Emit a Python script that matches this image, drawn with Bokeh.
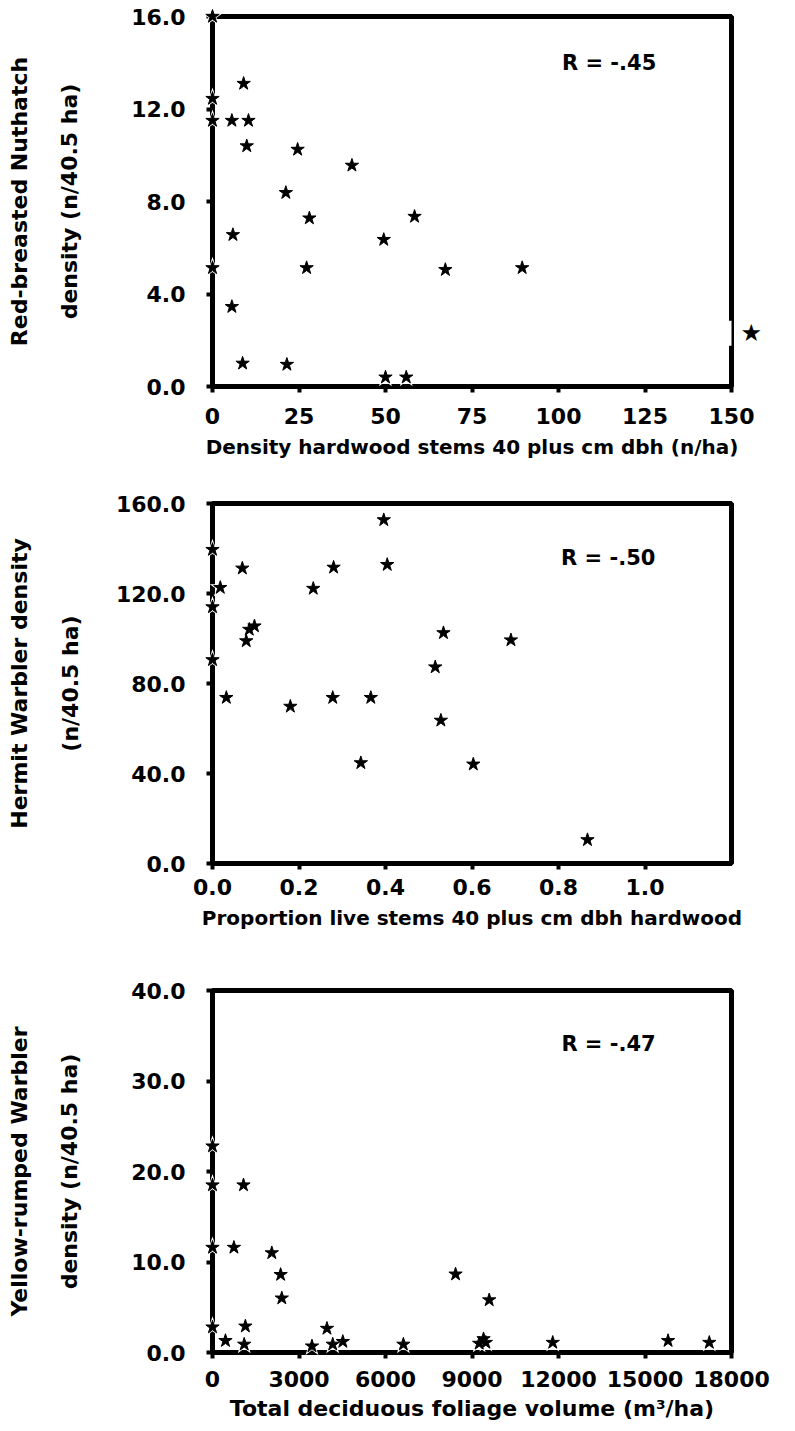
from bokeh.plotting import figure
from bokeh.models import Range1d, FixedTicker, LinearAxis, Label, NumeralTickFormatter
from bokeh.layouts import column
from bokeh.embed import file_html
from bokeh.resources import INLINE

FONT = "DejaVu Sans"
FRAME_W = 519

# ---------------- Panel 1: Red-breasted Nuthatch ----------------
nut_x = [0, 9.0, 0, 0, 5.6, 10.4, 9.9, 24.6, 40.3, 21.2, 28.0, 58.4, 5.9, 49.5,
         0, 27.2, 67.3, 89.5, 5.6, 155.4, 8.7, 21.5, 50.0, 56.0]
nut_y = [16.0, 13.1, 12.45, 11.5, 11.5, 11.5, 10.4, 10.25, 9.56, 8.38, 7.28, 7.35, 6.56, 6.35,
         5.13, 5.13, 5.05, 5.13, 3.45, 2.3, 1.0, 0.95, 0.4, 0.4]
nut_xticks = [0, 25, 50, 75, 100, 125, 150]
nut_xlabels = ["0", "25", "50", "75", "100", "125", "150"]
nut_yticks = [0, 4, 8, 12, 16]
nut_ylabels = ["0.0", "4.0", "8.0", "12.0", "16.0"]

# ---------------- Panel 2: Hermit Warbler ----------------
hw_x = [0.396, 0, 0.069, 0.280, 0.404, 0.018, 0, 0.233, 0.097, 0.085, 0.078, 0.534, 0.69,
        0, 0.515, 0.032, 0.180, 0.278, 0.366, 0.528, 0.343, 0.603, 0.867]
hw_y = [152.7, 139.5, 131.2, 131.6, 132.8, 122.6, 114.0, 122.2, 105.5, 104.0, 98.9, 102.5, 99.3,
        90.5, 87.3, 73.7, 69.8, 73.7, 73.7, 63.6, 44.7, 44.1, 10.5]
hw_xticks = [0.0, 0.2, 0.4, 0.6, 0.8, 1.0]
hw_xlabels = ["0.0", "0.2", "0.4", "0.6", "0.8", "1.0"]
hw_yticks = [0, 40, 80, 120, 160]
hw_ylabels = ["0.0", "40.0", "80.0", "120.0", "160.0"]

# ---------------- Panel 3: Yellow-rumped Warbler ----------------
yr_x = [0, 0, 1075, 0, 743, 2057, 2363, 2403, 8430, 9597,
        0, 1140, 3970, 450, 1100, 3450, 4170, 4520, 6620,
        9250, 9400, 9480, 11800, 15800, 17230]
yr_y = [22.8, 18.5, 18.5, 11.6, 11.6, 11.0, 8.6, 6.0, 8.65, 5.8,
        2.8, 2.9, 2.65, 1.3, 0.9, 0.7, 0.9, 1.2, 0.9,
        1.0, 1.5, 1.1, 1.1, 1.3, 1.1]
yr_xticks = [0, 3000, 6000, 9000, 12000, 15000, 18000]
yr_xlabels = ["0", "3000", "6000", "9000", "12000", "15000", "18000"]
yr_yticks = [0, 10, 20, 30, 40]
yr_ylabels = ["0.0", "10.0", "20.0", "30.0", "40.0"]

r_texts = ["R = -.45", "R = -.50", "R = -.47"]
r_x = [101.0, 0.806, 12100.0]
r_y = [14.0, 135.7, 34.1]


def style_axis(ax, title_size):
    ax.axis_line_width = 5
    ax.axis_line_color = "black"
    ax.major_tick_line_width = 4
    ax.major_tick_line_color = "black"
    ax.major_tick_out = 6
    ax.major_tick_in = 0
    ax.minor_tick_line_color = None
    ax.major_label_text_font = FONT
    ax.major_label_text_font_style = "bold"
    ax.major_label_text_font_size = "22px"
    ax.major_label_text_color = "black"
    ax.axis_label_text_font = FONT
    ax.axis_label_text_font_style = "bold"
    ax.axis_label_text_font_size = title_size
    ax.axis_label_text_color = "black"


def panel(xs, ys, xr, yr, xt, xl, yt, yl, xfmt, xtitle, yt1, yt2, ri,
          height, top, bottom, x_label_st, x_title_st, y_title_st, xtitle_size):
    p = figure(width=785, height=height, x_range=Range1d(*xr), y_range=Range1d(*yr),
               output_backend="svg", toolbar_location=None,
               min_border_left=212, min_border_right=785 - 212 - FRAME_W,
               min_border_top=top, min_border_bottom=bottom)
    p.grid.visible = False
    p.outline_line_color = "black"
    p.outline_line_width = 5
    p.background_fill_color = "white"
    p.border_fill_color = "white"

    xa = p.xaxis[0]
    ya = p.yaxis[0]
    style_axis(xa, xtitle_size)
    style_axis(ya, "22px")
    xa.ticker = FixedTicker(ticks=xt)
    xa.formatter = NumeralTickFormatter(format=xfmt)
    xa.major_label_overrides = dict(zip(xt, xl))
    xa.major_label_standoff = x_label_st
    xa.axis_label = xtitle
    xa.axis_label_standoff = x_title_st

    ya.ticker = FixedTicker(ticks=yt)
    ya.formatter = NumeralTickFormatter(format="0.0")
    ya.major_label_overrides = dict(zip(yt, yl))
    ya.major_label_standoff = 21
    ya.axis_label = yt2
    ya.axis_label_standoff = y_title_st

    outer = LinearAxis(ticker=FixedTicker(ticks=[]), axis_label=yt1)
    style_axis(outer, "22px")
    outer.axis_line_color = None
    outer.major_tick_out = 0
    outer.major_label_standoff = 0
    outer.axis_label_standoff = 23
    p.add_layout(outer, "left")

    # points inside the axes ranges: star markers with a white halo
    ins_x = [x for x in xs if xr[0] <= x <= xr[1]]
    ins_y = [y for x, y in zip(xs, ys) if xr[0] <= x <= xr[1]]
    halo = p.scatter(ins_x, ins_y, marker="star", size=22, fill_color="white", line_color=None)
    halo.level = "overlay"
    stars = p.scatter(ins_x, ins_y, marker="star", size=14, fill_color="black", line_color="black")
    stars.level = "overlay"

    # points beyond the right border: drawn in the right margin at their y value
    out_x = [x for x in xs if x > xr[1]]
    out_y = [y for x, y in zip(xs, ys) if x > xr[1]]
    if out_y:
        px_beyond = (out_x[0] - xr[1]) / (xr[1] - xr[0]) * FRAME_W
        ra = LinearAxis(ticker=FixedTicker(ticks=out_y))
        ra.major_label_overrides = {y: "\u2605" for y in out_y}
        ra.axis_line_color = None
        ra.major_tick_line_color = None
        ra.minor_tick_line_color = None
        ra.major_tick_out = 0
        ra.major_tick_in = 0
        ra.major_label_standoff = int(round(px_beyond - 10))
        ra.major_label_text_font = FONT
        ra.major_label_text_font_size = "24px"
        ra.major_label_text_color = "black"
        p.add_layout(ra, "right")
        for y in out_y:
            gap = Label(x=xr[1], y=y, text="\u00a0\u00a0", text_font=FONT,
                        text_font_size="22px", text_color="white",
                        text_align="center", text_baseline="middle",
                        background_fill_color="white", border_line_color=None)
            gap.level = "overlay"
            p.add_layout(gap)

    p.add_layout(Label(x=r_x[ri], y=r_y[ri], text=r_texts[ri], text_font=FONT,
                       text_font_style="bold", text_font_size="21px", text_color="black",
                       text_align="left", text_baseline="middle"))
    return p


p1 = panel(nut_x, nut_y, (0, 150), (0, 16), nut_xticks, nut_xlabels, nut_yticks, nut_ylabels, "0",
           "Density hardwood stems 40 plus cm dbh (n/ha)",
           "Red-breasted Nuthatch", "density (n/40.5 ha)", 0,
           height=468, top=16, bottom=82, x_label_st=15, x_title_st=8, y_title_st=46,
           xtitle_size="20px")

p2 = panel(hw_x, hw_y, (0, 1.2), (0, 160), hw_xticks, hw_xlabels, hw_yticks, hw_ylabels, "0.0",
           "Proportion live stems 40 plus cm dbh hardwood",
           "Hermit Warbler density", "(n/40.5 ha)", 1,
           height=473, top=35, bottom=78, x_label_st=9, x_title_st=8, y_title_st=30,
           xtitle_size="20px")

p3 = panel(yr_x, yr_y, (0, 18000), (0, 40), yr_xticks, yr_xlabels, yr_yticks, yr_ylabels, "0",
           "Total deciduous foliage volume (m³/ha)",
           "Yellow-rumped Warbler", "density (n/40.5 ha)", 2,
           height=489, top=49, bottom=78, x_label_st=12, x_title_st=6, y_title_st=46,
           xtitle_size="22px")

layout = column(p1, p2, p3, spacing=0)
open("out.html", "w").write(file_html(layout, INLINE))
